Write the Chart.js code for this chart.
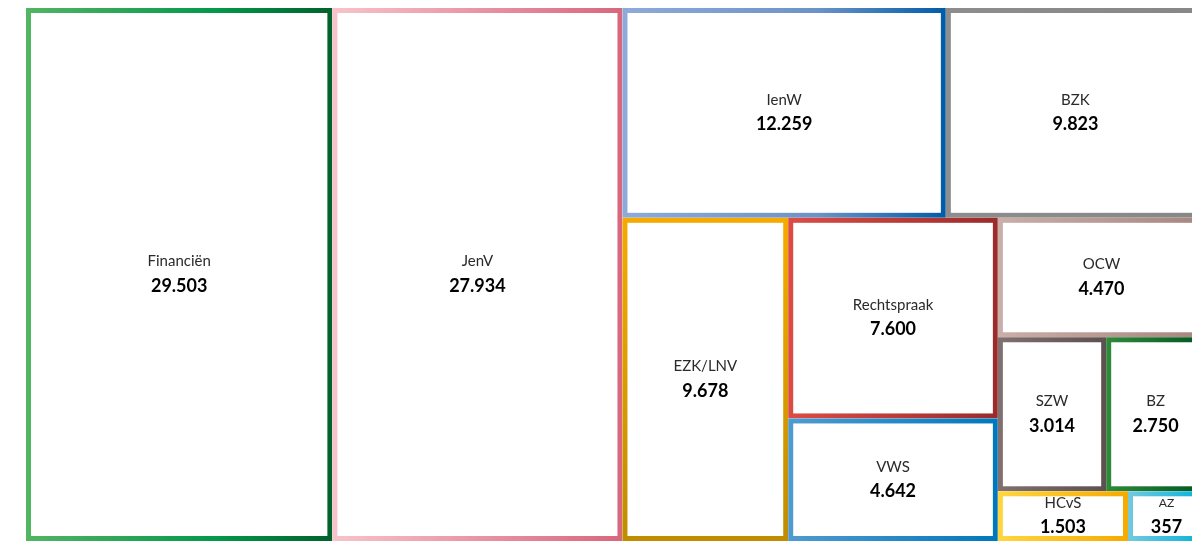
<!DOCTYPE html>
<html>
<head>
<meta charset="utf-8">
<script src="https://cdn.jsdelivr.net/npm/chart.js@4.4.1/dist/chart.umd.min.js"></script>
<style>
  html, body { margin: 0; padding: 0; background: #ffffff; overflow: hidden; width: 1192px; height: 543px; }
  #wrap { position: absolute; left: 0; top: 0; width: 1210px; height: 543px; }
</style>
</head>
<body>
<div id="wrap"><canvas id="chart"></canvas></div>
<script>
// ---- data ----
const categories = ['Financiën', 'JenV', 'IenW', 'BZK', 'EZK/LNV', 'Rechtspraak', 'VWS', 'OCW', 'SZW', 'BZ', 'HCvS', 'AZ'];
const values = [29503, 27934, 12259, 9823, 9678, 7600, 4642, 4470, 3014, 2750, 1503, 357];

// ---- styles (border gradients per category) ----
const borderStops = [
  [[0, '#52b563'], [0.62, '#03984a'], [1, '#00622b']],
  [[0, '#f8c3cb'], [1, '#d8667e']],
  [[0, '#8eaad8'], [0.6, '#6c93c6'], [1, '#005ca8']],
  [[0, '#8d8d8d'], [1, '#878787']],
  [[0, '#f6aa00'], [1, '#bf8c00']],
  [[0, '#dc4c45'], [1, '#9a2b2b']],
  [[0, '#4f9bd0'], [1, '#0077bd']],
  [[0, '#c9aea9'], [1, '#a8857f']],
  [[0, '#807070'], [1, '#5d5050']],
  [[0, '#2f8a3a'], [1, '#00561f']],
  [[0, '#ffd640'], [1, '#f5aa00']],
  [[0, '#74c9de'], [1, '#00b2dc']]
];
const gradientVertical = [false, false, false, false, true, false, false, false, false, false, false, false];

const BORDER = 5;
const ORIENT_BIAS = 1.15;   // rows run along the width unless the region is clearly wider than tall
const MIN_TILE_PX = 77;     // smallest tile width, so labels fit

function fmt(v) { return String(v).replace(/\B(?=(\d{3})+(?!\d))/g, '.'); }

function worst(row, len, a) {
  const s = row.reduce((p, c) => p + c, 0) * a;
  const t = s / len;
  let w = 0;
  row.forEach(v => { const l = v * a / t; w = Math.max(w, l / t, t / l); });
  return w;
}

function squarify(vals, sx, sy) {
  let rest = vals.reduce((p, c) => p + c, 0);
  let x0 = 0, y0 = 0, x1 = 1, y1 = 1;
  const tiles = [];
  let i = 0;
  while (i < vals.length) {
    const wpx = (x1 - x0) * sx, hpx = (y1 - y0) * sy;
    const column = wpx > hpx * ORIENT_BIAS;
    const len = column ? hpx : wpx;
    const a = wpx * hpx / rest;
    let row = [vals[i]];
    let best = worst(row, len, a);
    let j = i + 1;
    while (j < vals.length) {
      const cand = row.concat(vals[j]);
      const w = worst(cand, len, a);
      if (w > best) break;
      row = cand; best = w; j++;
    }
    const s = row.reduce((p, c) => p + c, 0);
    const last = j >= vals.length;
    if (column) {
      const xm = last ? x1 : x0 + (x1 - x0) * s / rest;
      let yy = y0;
      row.forEach((v, k) => {
        const y2 = (k === row.length - 1) ? y1 : yy + (y1 - y0) * v / s;
        tiles.push({ idx: i + k, x0: x0, x1: xm, y0: yy, y1: y2 });
        yy = y2;
      });
      x0 = xm;
    } else {
      const ym = last ? y1 : y0 + (y1 - y0) * s / rest;
      let xx = x0;
      row.forEach((v, k) => {
        const x2 = (k === row.length - 1) ? x1 : xx + (x1 - x0) * v / s;
        tiles.push({ idx: i + k, x0: xx, x1: x2, y0: y0, y1: ym });
        xx = x2;
      });
      y0 = ym;
    }
    rest -= s;
    i = j;
  }
  // enforce a minimum tile width by moving the shared edge with the left neighbour
  tiles.forEach(t => {
    if ((t.x1 - t.x0) * sx < MIN_TILE_PX) {
      const nb = tiles.find(o => o !== t && Math.abs(o.x1 - t.x0) < 1e-9 &&
        Math.abs(o.y0 - t.y0) < 1e-9 && Math.abs(o.y1 - t.y1) < 1e-9);
      if (nb) { const nx = t.x1 - MIN_TILE_PX / sx; nb.x1 = nx; t.x0 = nx; }
    }
  });
  return tiles;
}

const treemapPlugin = {
  id: 'treemapTiles',
  afterDatasetsDraw(chart) {
    const xs = chart.scales.x, ys = chart.scales.y;
    const sx = Math.abs(xs.getPixelForValue(1) - xs.getPixelForValue(0));
    const sy = Math.abs(ys.getPixelForValue(1) - ys.getPixelForValue(0));
    const tiles = squarify(values, sx, sy);
    const ctx = chart.ctx;
    ctx.save();
    tiles.forEach(t => {
      const X0 = xs.getPixelForValue(t.x0), X1 = xs.getPixelForValue(t.x1);
      const Y0 = ys.getPixelForValue(t.y0), Y1 = ys.getPixelForValue(t.y1);
      const w = X1 - X0, h = Y1 - Y0;
      ctx.fillStyle = '#ffffff';
      ctx.fillRect(X0, Y0, w, h);
      const g = gradientVertical[t.idx]
        ? ctx.createLinearGradient(X0, Y0, X0, Y1)
        : ctx.createLinearGradient(X0, Y0, X1, Y0);
      borderStops[t.idx].forEach(s => g.addColorStop(s[0], s[1]));
      ctx.strokeStyle = g;
      ctx.lineWidth = BORDER;
      ctx.lineJoin = 'miter';
      ctx.strokeRect(X0 + BORDER / 2, Y0 + BORDER / 2, w - BORDER, h - BORDER);

      const cx = (X0 + X1) / 2, cy = (Y0 + Y1) / 2;
      const inner = w - 2 * BORDER;
      const labelSize = Math.min(15, inner / 5.5);
      ctx.textAlign = 'center';
      ctx.textBaseline = 'middle';
      ctx.fillStyle = '#2a2a2a';
      ctx.font = labelSize + 'px Lato, "Open Sans", sans-serif';
      ctx.fillText(categories[t.idx], cx, cy - 13);
      ctx.fillStyle = '#000000';
      ctx.font = 'bold 18px Lato, "Open Sans", sans-serif';
      ctx.fillText(fmt(values[t.idx]), cx, cy + 11.5);
    });
    ctx.restore();
  }
};

new Chart(document.getElementById('chart'), {
  type: 'scatter',
  data: { datasets: [{ label: 'Omvang', data: [], pointRadius: 0 }] },
  options: {
    responsive: true,
    maintainAspectRatio: false,
    animation: false,
    layout: { padding: { left: 26, top: 8, right: 5, bottom: 2 } },
    scales: {
      x: { type: 'linear', min: 0, max: 1, display: false },
      y: { type: 'linear', min: 0, max: 1, reverse: true, display: false }
    },
    plugins: { legend: { display: false }, tooltip: { enabled: false } }
  },
  plugins: [treemapPlugin]
});
</script>
</body>
</html>
